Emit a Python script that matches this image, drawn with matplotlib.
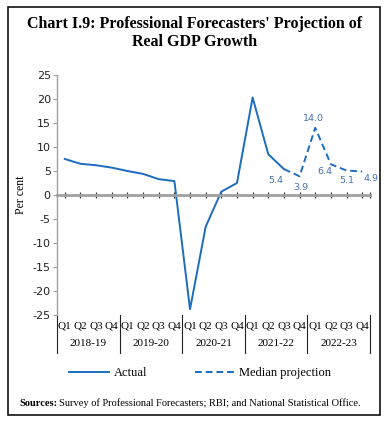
import numpy as np
import matplotlib
matplotlib.use("Agg")
import matplotlib.pyplot as plt
import matplotlib.patches as patches
import matplotlib.transforms as mtransforms

################################################
# Data
################################################
years = ["2018-19", "2019-20", "2020-21", "2021-22", "2022-23"]
quarters = ["Q1", "Q2", "Q3", "Q4"]

# actual real GDP growth, 2018-19 Q1 to 2021-22 Q3
actual = [7.5, 6.5, 6.2, 5.7, 5.0, 4.4, 3.3, 2.9,
          -23.8, -6.6, 0.7, 2.5, 20.3, 8.5, 5.4]
# median projection, 2021-22 Q3 to 2022-23 Q4
projection = [5.4, 3.9, 14.0, 6.4, 5.1, 4.9]
proj_labels = ["5.4", "3.9", "14.0", "6.4", "5.1", "4.9"]
label_offsets = [(-6, -8), (1, -8), (-1, 7), (-4, -5), (0, -7), (6, -5)]

yticks = [25, 20, 15, 10, 5, 0, -5, -10, -15, -20, -25]

blue = "#1c6cbf"
lbl_blue = "#4670b0"
grey = "#a0a0a0"
serif = "Liberation Serif"
sans = "DejaVu Sans"

################################################
# Figure
################################################
fig = plt.figure(figsize=(3.89, 4.22), dpi=100)
ax = fig.add_axes([57/389, 1-315/422, (370-57)/389, 240/422])

n = len(years) * len(quarters)
x_act = np.arange(len(actual))
x_proj = np.arange(len(actual)-1, len(actual)-1+len(projection))

ax.plot(x_act, actual, color=blue, lw=1.4, label="Actual")
ax.plot(x_proj, projection, color=blue, lw=1.4, ls=(0, (3.5, 2)), label="Median projection")

for xi, yi, t, (dx, dy) in zip(x_proj, projection, proj_labels, label_offsets):
    ax.annotate(t, (xi, yi), xytext=(dx, dy), textcoords="offset points",
                ha="center", va="center", fontsize=6.8, color=lbl_blue, family=sans)

ax.set_xlim(-0.5, n-0.5)
ax.set_ylim(-25, 25)
ax.set_yticks(yticks)
ax.set_yticklabels([str(v) for v in yticks], fontsize=8, family=sans, color="#222222")
ax.tick_params(axis="y", length=3, width=0.8, color=grey, pad=1.5)
ax.set_ylabel("Per cent", fontsize=8.5, family=serif, labelpad=4)

for s in ["top", "right"]:
    ax.spines[s].set_visible(False)
ax.spines["left"].set_color(grey)
ax.spines["left"].set_linewidth(1.0)
ax.spines["bottom"].set_position(("data", 0))
ax.spines["bottom"].set_color(grey)
ax.spines["bottom"].set_linewidth(2.0)
ax.set_xticks(list(np.arange(n)) + [n-0.5])
ax.set_xticklabels([])
ax.tick_params(axis="x", direction="inout", length=5, width=0.9, color="#333333")

# category axis below the plot
trans = mtransforms.blended_transform_factory(ax.transData, ax.transAxes)
for gi, yr in enumerate(years):
    for qi, q in enumerate(quarters):
        ax.text(gi*4+qi, -0.045, q, transform=trans, ha="center", va="center",
                fontsize=8, family=serif)
    ax.text(gi*4+1.5, -0.12, yr, transform=trans, ha="center", va="center",
            fontsize=8, family=serif)
for b in np.arange(-0.5, n, 4):
    ax.plot([b, b], [0, -0.158], transform=trans, color="#222222", lw=0.8, clip_on=False)

# title
fig.text(0.5, 1-24/422, "Chart I.9: Professional Forecasters' Projection of",
         ha="center", va="center", fontsize=11.5, fontweight="bold", family=serif)
fig.text(0.5, 1-42/422, "Real GDP Growth",
         ha="center", va="center", fontsize=11.5, fontweight="bold", family=serif)

# legend
leg = fig.legend(loc="center", bbox_to_anchor=(200/389, 1-373/422), ncol=2, frameon=False,
                 prop={"family": serif, "size": 9}, handlelength=3.2,
                 columnspacing=3.8, handletextpad=0.35)

# sources
src = fig.text(19/389, 1-403/422, "Sources:", ha="left", va="center", fontsize=7.5,
               fontweight="bold", family=serif)
fig.canvas.draw()
bb = src.get_window_extent().transformed(fig.transFigure.inverted())
fig.text(bb.x1 + 2/389, 1-403/422,
         "Survey of Professional Forecasters; RBI; and National Statistical Office.",
         ha="left", va="center", fontsize=7.5, family=serif)

# border
fig.patches.append(patches.Rectangle((8/389, 1-415/422), 372/389, 408/422,
                                     transform=fig.transFigure, fill=False,
                                     edgecolor="#111111", lw=1.2))

fig.savefig("out.png", dpi=100)
